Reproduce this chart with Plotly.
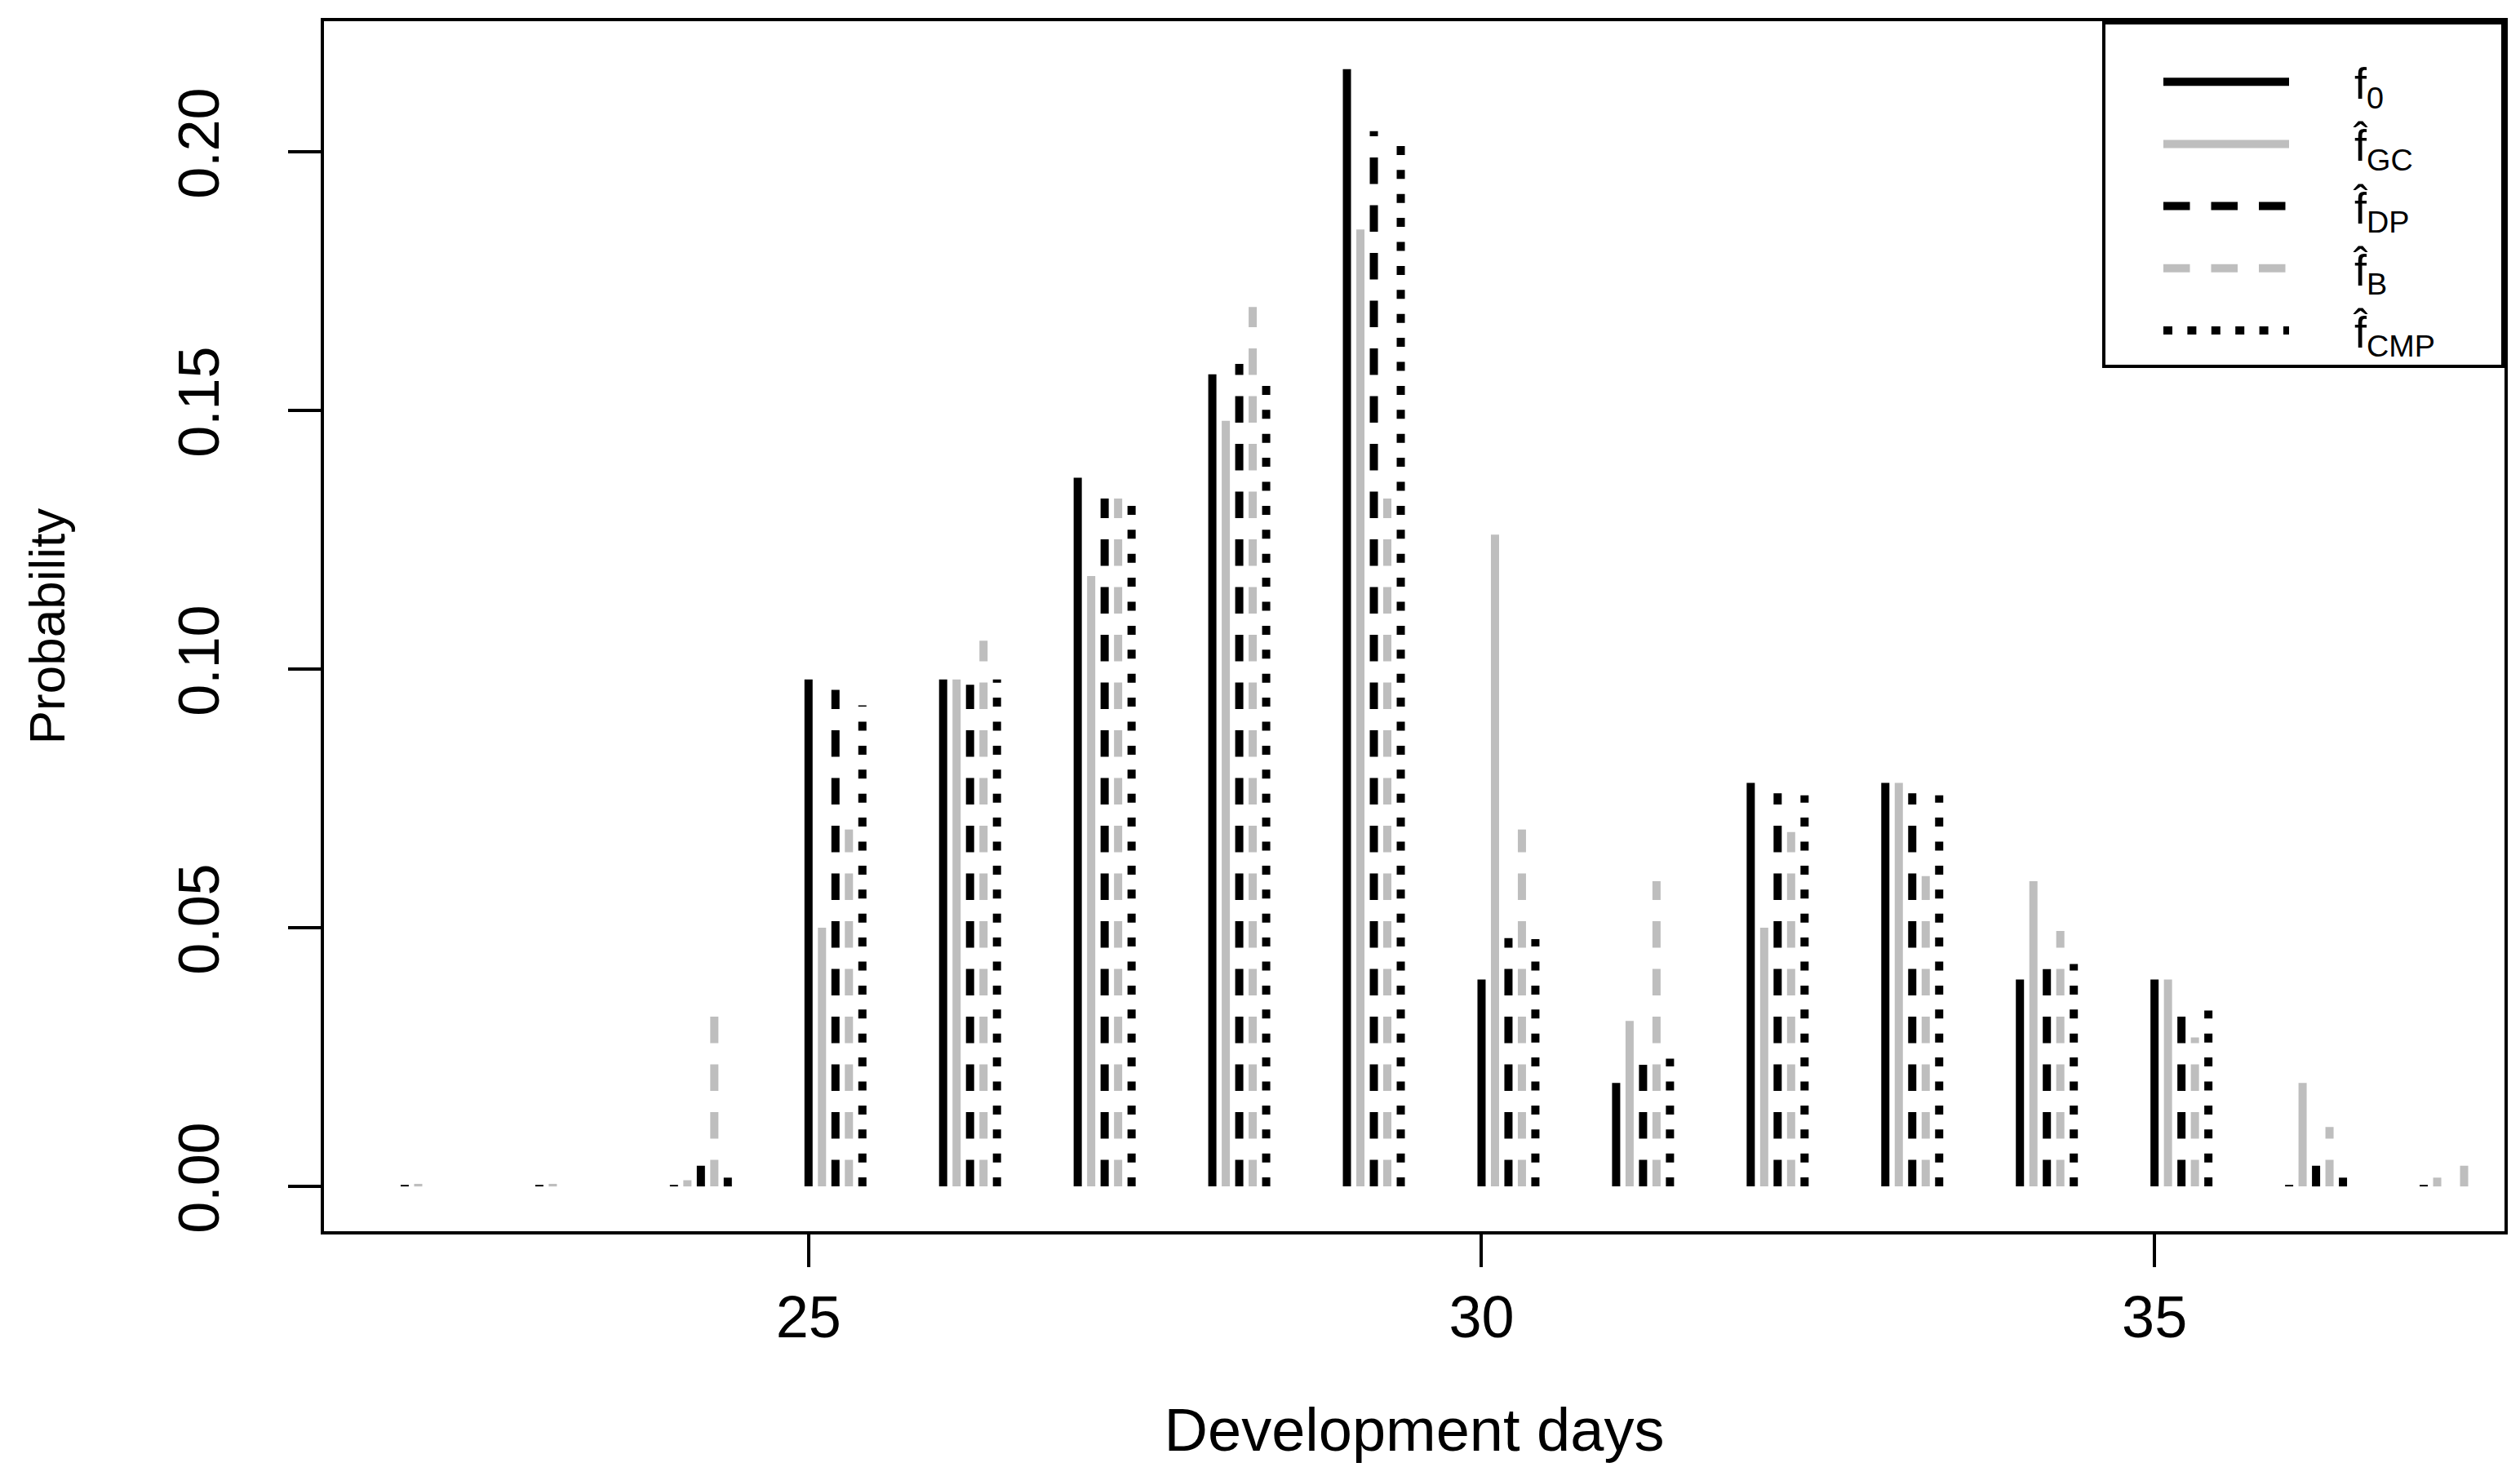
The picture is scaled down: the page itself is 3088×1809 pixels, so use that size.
import plotly.graph_objects as go

# ---- data ----
days = list(range(22, 38))
f0 = [0.0003, 0.0003, 0.0003, 0.098, 0.098, 0.137, 0.157, 0.216, 0.040, 0.020,
      0.078, 0.078, 0.040, 0.040, 0.0003, 0.0003]
f_gc = [0.0005, 0.0005, 0.0012, 0.050, 0.098, 0.118, 0.148, 0.185, 0.126, 0.032,
        0.050, 0.078, 0.059, 0.040, 0.020, 0.0017]
f_dp = [None, None, 0.004, 0.096, 0.097, 0.133, 0.159, 0.204, 0.048, 0.0235,
        0.076, 0.076, 0.042, 0.033, 0.004, None]
f_b = [None, None, 0.033, 0.069, 0.1055, 0.133, 0.170, 0.133, 0.069, 0.059,
       0.0685, 0.060, 0.0494, 0.0288, 0.0115, 0.004]
f_cmp = [None, None, 0.0017, 0.093, 0.098, 0.134, 0.1575, 0.204, 0.0478, 0.0247,
         0.0756, 0.0756, 0.043, 0.034, 0.0017, None]

x_ticks = [25, 30, 35]
y_ticks = [0.0, 0.05, 0.10, 0.15, 0.20]
y_tick_labels = ["0.00", "0.05", "0.10", "0.15", "0.20"]

labels = ["f<sub>0</sub>", "f\u0302<sub>GC</sub>", "f\u0302<sub>DP</sub>",
          "f\u0302<sub>B</sub>", "f\u0302<sub>CMP</sub>"]

# ---- styles ----
GRAY = "#BEBEBE"
DASHED = "32.5px,26px"
DOTTED = "11px,18.4px"
styles = [("black", "solid"), (GRAY, "solid"), ("black", DASHED),
          (GRAY, DASHED), ("black", DOTTED)]
offsets = [0.0, 0.1, 0.2, 0.3, 0.4]
LEAD = "&nbsp;" * 5
TRAIL = "&nbsp;" * 5

FONT = "Liberation Sans, Arial, Helvetica, sans-serif"

fig = go.Figure()
for i, (lab, vals, (col, dash), off) in enumerate(
        zip(labels, [f0, f_gc, f_dp, f_b, f_cmp], styles, offsets)):
    xs, ys = [], []
    for d, v in zip(days, vals):
        if v is None:
            continue
        xs += [d + off, d + off, None]
        ys += [0, v, None]
    fig.add_trace(go.Scatter(x=xs, y=ys, mode="lines", name=LEAD + lab + TRAIL,
                             legendgroup="g%d" % i,
                             line=dict(color=col, width=10, dash=dash),
                             connectgaps=False, hoverinfo="skip"))

fig.update_layout(
    width=3088, height=1809,
    margin=dict(l=389, r=27, t=18, b=308),
    paper_bgcolor="white", plot_bgcolor="white",
    font=dict(family=FONT, color="black", size=60),
    showlegend=True,
    legend=dict(x=1, y=1, xanchor="right", yanchor="top",
                bgcolor="white", bordercolor="black", borderwidth=4,
                font=dict(size=54, family=FONT, color="black"),
                itemwidth=154, tracegroupgap=3, indentation=66,
                title=dict(text="&nbsp;", font=dict(size=22, family=FONT))),
)
fig.update_xaxes(
    range=[21.4, 37.6], tickvals=x_ticks, ticktext=[str(t) for t in x_ticks],
    showgrid=False, zeroline=False, showline=True, mirror=True,
    linecolor="black", linewidth=4, ticks="outside", ticklen=40, tickwidth=4,
    tickcolor="black", tickfont=dict(size=72, family=FONT),
    ticklabelstandoff=0,
    title=dict(text="Development days", font=dict(size=74, family=FONT), standoff=74),
)
fig.update_yaxes(
    range=[-0.00866, 0.22526], tickvals=y_ticks, ticktext=y_tick_labels,
    showgrid=False, zeroline=False, showline=True, mirror=True,
    linecolor="black", linewidth=4, ticks="outside", ticklen=40, tickwidth=4,
    tickcolor="black", tickfont=dict(size=70, family=FONT), tickangle=-90,
    ticklabelstandoff=57,
    title=dict(text="Probability", font=dict(size=62, family=FONT), standoff=106),
)

fig.write_html("out.html")
